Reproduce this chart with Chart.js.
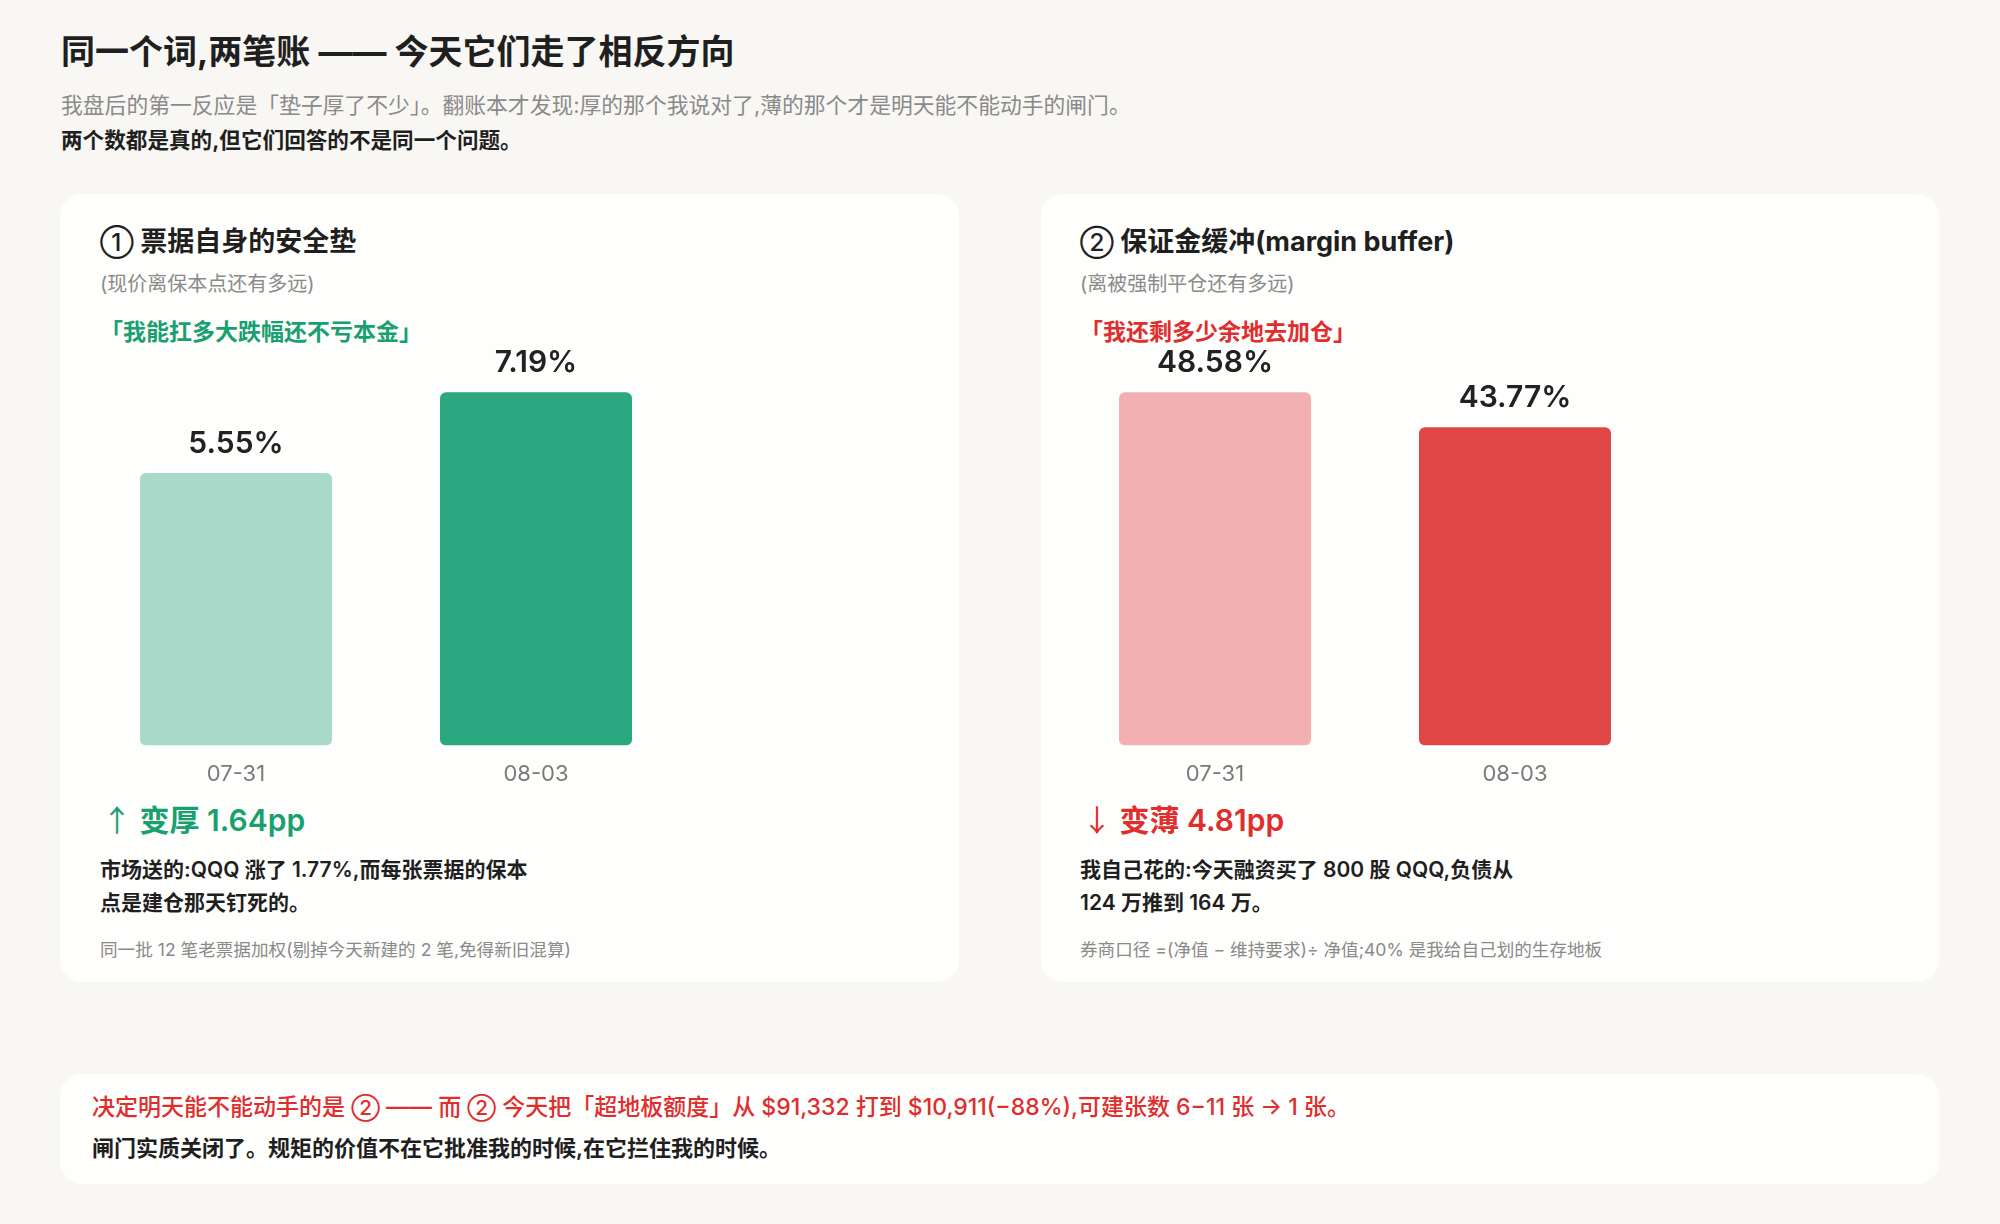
<!DOCTYPE html>
<html>
<head>
<meta charset="utf-8">
<script src="https://cdn.jsdelivr.net/npm/chart.js@4/dist/chart.umd.min.js"></script>
<style>
  html, body { margin: 0; padding: 0; }
  body {
    width: 2000px; height: 1224px; position: relative; overflow: hidden;
    background: #f8f7f3;
    font-family: "Inter", "Noto Sans CJK SC", sans-serif;
    color: #1f1f1f;
  }
  .t { position: absolute; white-space: nowrap; }
  .card { position: absolute; background: #fefefc; border-radius: 22px; }
  .chartbox { position: absolute; width: 600px; height: 456px; }
  .green { color: #19a070; }
  .red { color: #e02d2d; }
  .gray { color: #8a8a8a; }
  .arrow { font-family: "Noto Sans CJK SC", sans-serif; font-weight: 400; }
  .num { font-size: 0.9em; font-weight: 500; }
</style>
</head>
<body>
<div class="t" style="left:61px; top:31px; font-size:34px; font-weight:700; line-height:42px;">同一个词,两笔账 —— 今天它们走了相反方向</div>
<div class="t gray" style="left:61px; top:92px; font-size:21.8px; line-height:26px;">我盘后的第一反应是「垫子厚了不少」。翻账本才发现:厚的那个我说对了,薄的那个才是明天能不能动手的闸门。</div>
<div class="t" style="left:61px; top:127px; font-size:21.6px; font-weight:700; line-height:26px;">两个数都是真的,但它们回答的不是同一个问题。</div>

<div class="card" style="left:60px; top:194px; width:899px; height:788px;"></div>
<div class="card" style="left:1041px; top:194px; width:898px; height:788px;"></div>
<div class="card" style="left:60px; top:1074px; width:1879px; height:110px;"></div>

<!-- left card -->
<div class="t" style="left:100px; top:225px; font-size:27px; font-weight:700; line-height:34px;"><span class="num">①</span> 票据自身的安全垫</div>
<div class="t gray" style="left:100px; top:272px; font-size:20px; line-height:24px;">(现价离保本点还有多远)</div>
<div class="t green" style="left:100px; top:318px; font-size:23px; font-weight:700; line-height:28px;">「我能扛多大跌幅还不亏本金」</div>
<div class="chartbox" style="left:86px; top:340px;"><canvas id="cushion"></canvas></div>
<div class="t green" style="left:102px; top:799px; font-size:30px; font-weight:600; line-height:38px;"><span class="arrow">↑</span> 变厚 1.64pp</div>
<div class="t" style="left:100px; top:853px; font-size:21px; font-weight:600; line-height:33px;">市场送的:QQQ 涨了 1.77%,而每张票据的保本<br>点是建仓那天钉死的。</div>
<div class="t gray" style="left:100px; top:939px; font-size:17.6px; line-height:22px;">同一批 12 笔老票据加权(剔掉今天新建的 2 笔,免得新旧混算)</div>

<!-- right card -->
<div class="t" style="left:1080px; top:225px; font-size:27px; font-weight:700; line-height:34px;"><span class="num">②</span> 保证金缓冲(margin buffer)</div>
<div class="t gray" style="left:1080px; top:272px; font-size:20px; line-height:24px;">(离被强制平仓还有多远)</div>
<div class="t red" style="left:1080px; top:318px; font-size:23px; font-weight:700; line-height:28px;">「我还剩多少余地去加仓」</div>
<div class="chartbox" style="left:1065px; top:340px;"><canvas id="margin"></canvas></div>
<div class="t red" style="left:1082px; top:799px; font-size:30px; font-weight:600; line-height:38px;"><span class="arrow">↓</span> 变薄 4.81pp</div>
<div class="t" style="left:1080px; top:853px; font-size:21px; font-weight:600; line-height:33px;">我自己花的:今天融资买了 800 股 QQQ,负债从<br>124 万推到 164 万。</div>
<div class="t gray" style="left:1080px; top:939px; font-size:17.6px; line-height:22px;">券商口径 =(净值 − 维持要求)÷ 净值;40% 是我给自己划的生存地板</div>

<!-- bottom note -->
<div class="t red" style="left:92px; top:1093px; font-size:23px; font-weight:500; line-height:28px;">决定明天能不能动手的是 <span class="num">②</span> —— 而 <span class="num">②</span> 今天把「超地板额度」从 $91,332 打到 $10,911(−88%),可建张数 6−11 张 → 1 张。</div>
<div class="t" style="left:92px; top:1134px; font-size:22px; font-weight:600; line-height:28px;">闸门实质关闭了。规矩的价值不在它批准我的时候,在它拦住我的时候。</div>

<script>
// data ==========================
const dates = ["07-31", "08-03"];
const cushionValues = [5.55, 7.19];
const marginValues = [48.58, 43.77];
const cushionColors = ["#a8d9c9", "#2ba880"];
const marginColors = ["#f2b0b0", "#e04646"];
const headroom = 1.148;

// value labels above the bars
const barValueText = {
  id: "barValueText",
  afterDatasetsDraw(chart) {
    const { ctx } = chart;
    const ds = chart.data.datasets[0];
    ctx.save();
    ctx.font = "600 30px Inter, 'Noto Sans CJK SC', sans-serif";
    ctx.fillStyle = "#222";
    ctx.textAlign = "center";
    ctx.textBaseline = "middle";
    chart.getDatasetMeta(0).data.forEach((bar, i) => {
      ctx.fillText(ds.data[i].toFixed(2) + "%", bar.x, bar.y - 29);
    });
    ctx.restore();
  },
};

function makeChart(id, values, colors) {
  const canvas = document.getElementById(id);
  canvas.width = 600;
  canvas.height = 456;
  return new Chart(canvas, {
    type: "bar",
    data: {
      labels: dates,
      datasets: [
        {
          data: values,
          backgroundColor: colors,
          borderRadius: 6,
          borderSkipped: false,
          barPercentage: 0.64,
          categoryPercentage: 1,
        },
      ],
    },
    options: {
      responsive: false,
      animation: false,
      devicePixelRatio: 1,
      layout: { padding: 0 },
      plugins: {
        legend: { display: false },
        tooltip: { enabled: false },
      },
      scales: {
        x: {
          grid: { display: false },
          border: { display: false },
          ticks: {
            color: "#7a7a7a",
            padding: 8,
            font: { family: "Inter, 'Noto Sans CJK SC', sans-serif", size: 22 },
          },
        },
        y: {
          display: false,
          min: 0,
          max: Math.max(...values) * headroom,
        },
      },
    },
    plugins: [barValueText],
  });
}

const cushionChart = makeChart("cushion", cushionValues, cushionColors);
const marginChart = makeChart("margin", marginValues, marginColors);
</script>
</body>
</html>
